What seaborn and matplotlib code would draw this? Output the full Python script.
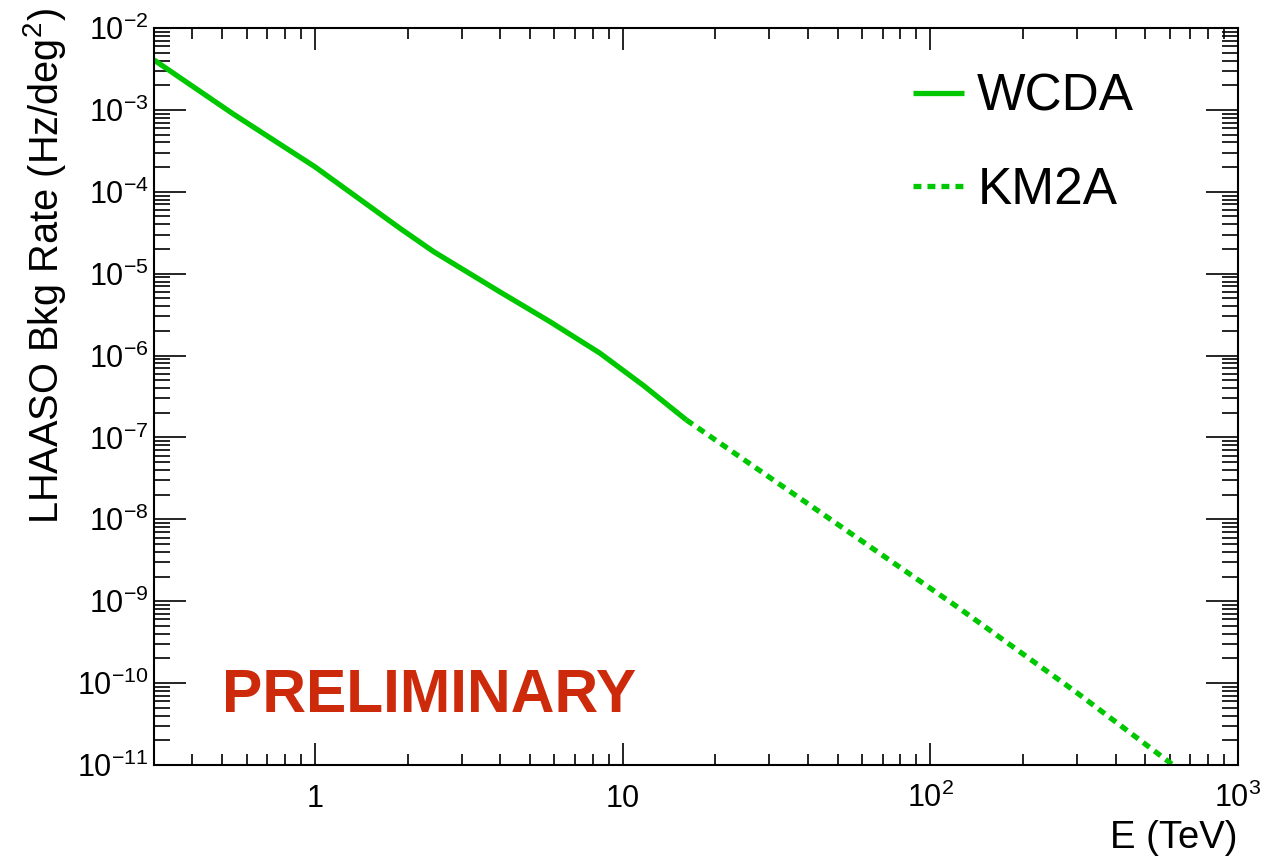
import numpy as np
import pandas as pd
import matplotlib
matplotlib.use("Agg")
import matplotlib.pyplot as plt
from matplotlib.ticker import LogLocator, FixedLocator, NullFormatter
from matplotlib.lines import Line2D
import seaborn as sns

# Background rate vs. energy for the two LHAASO sub-arrays
wcda_energy = [0.3, 0.543, 1.0, 1.89, 2.43, 3.99, 5.8, 8.44, 11.7, 16.1]
wcda_rate = [4.07e-3, 8.9e-4, 2.02e-4, 3.58e-5, 1.86e-5, 6.0e-6, 2.6e-6, 1.07e-6,
             4.3e-7, 1.64e-7]

km2a_energy = [16.1, 40.0, 122.0, 300.0, 615.0]
km2a_rate = [1.64e-7, 1.55e-8, 8.6e-10, 7.6e-11, 1.0e-11]

x_ticks = [1, 10, 100, 1000]
x_tick_labels = ["1", "10", r"$\mathdefault{10^{2}}$", r"$\mathdefault{10^{3}}$"]
y_exponents = list(range(-11, -1))
y_tick_labels = [r"$\mathdefault{10^{%d}}$" % e for e in y_exponents]

green = "#00c800"

sns.set_theme(style="ticks")
plt.rcParams["font.family"] = ["Liberation Sans", "DejaVu Sans"]
plt.rcParams["mathtext.fontset"] = "custom"
plt.rcParams["mathtext.rm"] = "Liberation Sans"
plt.rcParams["mathtext.it"] = "Liberation Sans:italic"
plt.rcParams["mathtext.bf"] = "Liberation Sans:bold"
plt.rcParams["text.color"] = "black"
plt.rcParams["axes.labelcolor"] = "black"

fig = plt.figure(figsize=(12.78, 8.58), dpi=100)
ax = fig.add_axes([154 / 1278, 1 - 765 / 858, 1084 / 1278, 737 / 858])

wcda_df = pd.DataFrame({"E": wcda_energy, "rate": wcda_rate})
km2a_df = pd.DataFrame({"E": km2a_energy, "rate": km2a_rate})

lw = 3.8
dots = (0, (1.5, 1.15))
sns.lineplot(data=wcda_df, x="E", y="rate", ax=ax, color=green, linewidth=lw,
             solid_capstyle="butt", solid_joinstyle="round")
sns.lineplot(data=km2a_df, x="E", y="rate", ax=ax, color=green, linewidth=lw,
             linestyle=dots, dash_capstyle="butt")

ax.set_xscale("log")
ax.set_yscale("log")
ax.set_xlim(0.3, 1000)
ax.set_ylim(1e-11, 1e-2)

ax.xaxis.set_major_locator(FixedLocator(x_ticks))
ax.xaxis.set_minor_locator(LogLocator(base=10, subs=np.arange(2, 10), numticks=20))
ax.xaxis.set_minor_formatter(NullFormatter())
ax.set_xticks(x_ticks, labels=x_tick_labels, va="baseline")

y_major = [10.0 ** e for e in y_exponents]
ax.yaxis.set_major_locator(FixedLocator(y_major))
ax.yaxis.set_minor_locator(LogLocator(base=10, subs=np.arange(2, 10), numticks=30))
ax.yaxis.set_minor_formatter(NullFormatter())
ax.set_yticks(y_major, labels=y_tick_labels)

for s in ax.spines.values():
    s.set_linewidth(1.5)
    s.set_color("black")
    s.set_visible(True)

ax.tick_params(axis="both", which="both", direction="in", top=True, right=True,
               colors="black", width=1.2, labelsize=22)
ax.tick_params(axis="x", which="major", length=16, pad=30)
ax.tick_params(axis="x", which="minor", length=8)
ax.tick_params(axis="y", which="major", length=23, pad=4)
ax.tick_params(axis="y", which="minor", length=11.5)

ax.set_xlabel("E (TeV)", fontsize=27.5, loc="right")
ax.xaxis.set_label_coords(1.0, -0.075)
ax.set_ylabel(r"LHAASO Bkg Rate (Hz/deg$^{\mathdefault{2}}$)", fontsize=28.6, loc="top")
ax.yaxis.set_label_coords(-0.079, 1.027)

handles = [
    Line2D([], [], color=green, linewidth=lw, solid_capstyle="butt"),
    Line2D([], [], color=green, linewidth=lw, linestyle=dots, dash_capstyle="butt"),
]
ax.legend(handles, ["WCDA", "KM2A"], loc="upper left",
          bbox_to_anchor=(0.7002, 0.939), frameon=False, fontsize=37,
          handlelength=1.0, handletextpad=0.25, labelspacing=0.85,
          borderpad=0, borderaxespad=0, labelcolor="black")

ax.text(0.0627, 0.0719, "PRELIMINARY", transform=ax.transAxes, fontsize=43.6,
        fontweight="bold", color="#cc2a0a", ha="left", va="baseline")

fig.savefig("out.png", dpi=100, facecolor="white")
